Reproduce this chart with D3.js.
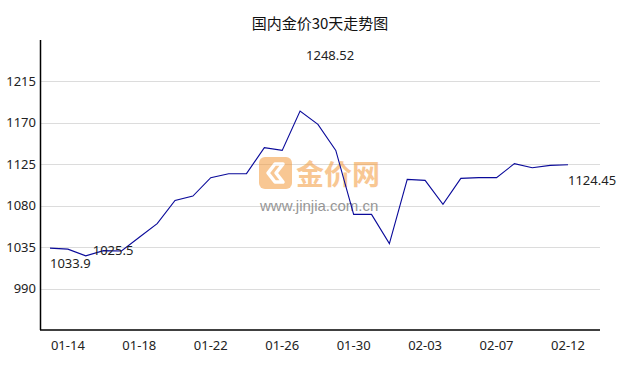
<!DOCTYPE html>
<html>
<head>
  <meta charset="utf-8">
  <style>
    body { margin: 0; background: #fff; }
    .grid line { stroke: #dcdcdc; stroke-width: 1; }
    .tick-label { font-family: "Noto Sans", "DejaVu Sans", sans-serif; font-size: 13px; fill: #222; }
    .title { font-family: "Noto Sans CJK SC", sans-serif; font-size: 15px; fill: #111; }
    .price-line { fill: none; stroke: #0a0a9a; stroke-width: 1.1; }
    .axis-line { stroke: #000; stroke-width: 1.5; }
  </style>
</head>
<body>
  <svg width="638" height="370"></svg>
  <script src="https://d3js.org/d3.v7.min.js"></script>
  <script>
    const dates = [
      "01-13", "01-14", "01-15", "01-16", "01-17", "01-18", "01-19", "01-20", "01-21", "01-22",
      "01-23", "01-24", "01-25", "01-26", "01-27", "01-28", "01-29", "01-30", "01-31", "02-01",
      "02-02", "02-03", "02-04", "02-05", "02-06", "02-07", "02-08", "02-10", "02-11", "02-12"
    ];
    const prices = [
      1033.9, 1032.8, 1025.5, 1031.2, 1030.8, 1045.7, 1060.5, 1085.8, 1090.5, 1110.5,
      1114.8, 1114.8, 1143.0, 1140.1, 1182.8, 1168.3, 1140.1, 1070.6, 1070.6, 1038.8,
      1108.6, 1107.5, 1081.5, 1109.7, 1110.5, 1110.5, 1125.7, 1121.3, 1123.8, 1124.45
    ];
    const yTicks = [990, 1035, 1080, 1125, 1170, 1215];
    const xLabels = ["01-14", "01-18", "01-22", "01-26", "01-30", "02-03", "02-07", "02-12"];
    // value annotations: [index, text, value used for position]
    const notes = [
      { i: 0, text: "1033.9", v: 1033.9, dx: 0, dy: 15 },
      { i: 2, text: "1025.5", v: 1025.5, dx: 7, dy: -5 },
      { i: 14, text: "1248.52", v: 1248.52, dx: 6, dy: 5 },
      { i: 29, text: "1124.45", v: 1124.45, dx: 0, dy: 16 }
    ];

    const svg = d3.select("svg");
    const plotLeft = 40, plotRight = 600, plotTop = 40, plotBottom = 330;

    const x = d3.scalePoint().domain(dates).range([50, 568]);
    const y = d3.scaleLinear().domain([945, 1260]).range([plotBottom, plotTop]);

    svg.append("text")
      .attr("class", "title")
      .attr("x", 320).attr("y", 29)
      .attr("text-anchor", "middle")
      .text("国内金价30天走势图");

    svg.append("g").attr("class", "grid")
      .selectAll("line")
      .data(yTicks)
      .join("line")
      .attr("x1", plotLeft).attr("x2", plotRight)
      .attr("y1", d => Math.round(y(d)) + 0.5)
      .attr("y2", d => Math.round(y(d)) + 0.5);

    svg.append("g")
      .selectAll("text")
      .data(yTicks)
      .join("text")
      .attr("class", "tick-label")
      .attr("x", 36)
      .attr("y", d => y(d))
      .attr("dy", "0.35em")
      .attr("text-anchor", "end")
      .text(d => d);

    // watermark
    const wm = svg.append("g").attr("opacity", 0.55);
    wm.append("rect")
      .attr("x", 259).attr("y", 157).attr("width", 33).attr("height", 32)
      .attr("rx", 6).attr("fill", "#f39a3c");
    wm.append("path")
      .attr("d", "M268,173 l7,-9 h8 l-7,9 l7,9 h-8 z")
      .attr("fill", "none").attr("stroke", "#fff").attr("stroke-width", 3.5)
      .attr("stroke-linejoin", "round");
    wm.append("text")
      .attr("x", 296).attr("y", 185)
      .attr("font-family", "Noto Sans CJK SC, sans-serif")
      .attr("font-weight", "bold")
      .attr("font-size", 28)
      .attr("fill", "#f39a3c")
      .text("金价网");
    svg.append("text")
      .attr("x", 260).attr("y", 211)
      .attr("font-family", "Liberation Sans, Arial, sans-serif")
      .attr("font-size", 15)
      .attr("fill", "#8c8c8c")
      .attr("opacity", 0.9)
      .text("www.jinjia.com.cn");

    const line = d3.line()
      .x((d, i) => x(dates[i]))
      .y(d => y(d));

    svg.append("path")
      .datum(prices)
      .attr("class", "price-line")
      .attr("d", line);

    svg.append("line").attr("class", "axis-line")
      .attr("x1", plotLeft + 0.5).attr("x2", plotLeft + 0.5)
      .attr("y1", plotTop).attr("y2", plotBottom);
    svg.append("line").attr("class", "axis-line")
      .attr("x1", plotLeft).attr("x2", plotRight)
      .attr("y1", plotBottom).attr("y2", plotBottom);

    svg.append("g")
      .selectAll("text")
      .data(xLabels)
      .join("text")
      .attr("class", "tick-label")
      .attr("x", d => x(d))
      .attr("y", 345)
      .attr("dy", "0.35em")
      .attr("text-anchor", "middle")
      .text(d => d);

    svg.append("g")
      .selectAll("text")
      .data(notes)
      .join("text")
      .attr("class", "tick-label")
      .attr("x", d => x(dates[d.i]) + d.dx)
      .attr("y", d => y(d.v) + d.dy)
      .attr("dy", "0.35em")
      .text(d => d.text);
  </script>
</body>
</html>
